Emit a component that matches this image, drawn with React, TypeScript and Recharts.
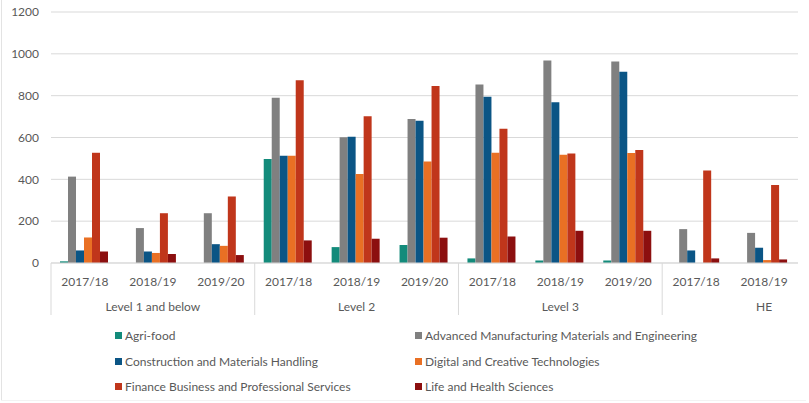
import { Bar, BarChart, CartesianGrid, Legend, XAxis, YAxis } from "recharts"

const years = ["2017/18", "2018/19", "2019/20", "2017/18", "2018/19", "2019/20", "2017/18", "2018/19", "2019/20", "2017/18", "2018/19"]
const groups = ["Level 1 and below", "Level 1 and below", "Level 1 and below", "Level 2", "Level 2", "Level 2", "Level 3", "Level 3", "Level 3", "HE", "HE"]

const agriFood = [8, 0, 0, 497, 76, 86, 22, 12, 12, 0, 0]
const advancedManufacturing = [413, 167, 238, 790, 601, 688, 853, 968, 963, 162, 144]
const construction = [60, 55, 90, 513, 604, 680, 795, 769, 914, 60, 73]
const digitalCreative = [122, 48, 82, 513, 426, 485, 527, 518, 526, 0, 14]
const financeBusiness = [527, 238, 318, 874, 701, 846, 642, 523, 540, 442, 373]
const lifeHealth = [55, 43, 38, 108, 116, 121, 127, 154, 154, 22, 17]

const yTicks = [0, 200, 400, 600, 800, 1000, 1200]

const series = [
  { key: "agri", name: "Agri-food", color: "#138b7b" },
  { key: "adv", name: "Advanced Manufacturing Materials and Engineering", color: "#808080" },
  { key: "con", name: "Construction and Materials Handling", color: "#0b5585" },
  { key: "dig", name: "Digital and Creative Technologies", color: "#e97024" },
  { key: "fin", name: "Finance Business and Professional Services", color: "#c0361b" },
  { key: "life", name: "Life and Health Sciences", color: "#8c0f0f" },
]

const data = years.map((year, i) => ({
  year,
  group: groups[i],
  agri: agriFood[i],
  adv: advancedManufacturing[i],
  con: construction[i],
  dig: digitalCreative[i],
  fin: financeBusiness[i],
  life: lifeHealth[i],
}))

const FONT = "Lato, 'Open Sans', sans-serif"
const TEXT = "#595959"
const LINE = "#d9d9d9"

const W = 809
const H = 403
const LEFT = 51
const RIGHT = 11
const BAND = (W - LEFT - RIGHT) / years.length

// group label sits under the middle category of each group (Excel style)
const labelAt = [1, 4, 7, 10]
const groupStart = [0, 3, 6, 9]

const XTick = (props: any) => {
  const { x, y, payload } = props
  const i = payload.index
  return (
    <g>
      <text x={x} y={y + 15} textAnchor="middle" fill={TEXT} fontSize={12} fontFamily={FONT}>
        {years[i]}
      </text>
      {labelAt.includes(i) && (
        <text x={x} y={y + 40} textAnchor="middle" fill={TEXT} fontSize={12} fontFamily={FONT}>
          {groups[i]}
        </text>
      )}
      {groupStart.includes(i) && (
        <line x1={x - BAND / 2} x2={x - BAND / 2} y1={y - 8} y2={y + 44} stroke={LINE} />
      )}
    </g>
  )
}

// legend in the same order as the series, two columns
const LegendBox = () => (
  <div style={{ position: "relative", width: W, height: 80, fontFamily: FONT, fontSize: 12, color: TEXT }}>
    {series.map((s, i) => (
      <div
        key={s.key}
        style={{
          position: "absolute",
          left: i % 2 === 0 ? 115 : 415,
          top: 5 + Math.floor(i / 2) * 25.5,
          display: "flex",
          alignItems: "center",
          whiteSpace: "nowrap",
        }}
      >
        <span style={{ width: 7, height: 7, background: s.color, marginRight: 3, display: "inline-block" }} />
        {s.name}
      </div>
    ))}
  </div>
)

export default function App() {
  return (
    <div style={{ position: "absolute", left: 0, top: 0, width: W, height: H, background: "#fff" }}>
      <div style={{ position: "absolute", left: 1, top: 0, width: 1, height: 401, background: "#e3e3e3" }} />
      <div style={{ position: "absolute", left: 1, top: 400, width: 805, height: 1, background: "#f3f3f3" }} />
      <BarChart
        width={W}
        height={H}
        data={data}
        margin={{ top: 12, right: RIGHT, bottom: 0, left: 0 }}
        barGap={0}
        barCategoryGap={9}
      >
        <CartesianGrid vertical={false} stroke={LINE} />
        <XAxis
          dataKey="year"
          height={60}
          tickLine={false}
          axisLine={{ stroke: LINE }}
          tick={<XTick />}
          interval={0}
        />
        <YAxis
          width={LEFT}
          domain={[0, 1200]}
          ticks={yTicks}
          axisLine={false}
          tickLine={false}
          tick={{ fill: TEXT, fontSize: 12, fontFamily: FONT }}
          tickMargin={6}
        />
        <Legend verticalAlign="bottom" height={80} content={<LegendBox />} />
        {series.map(s => (
          <Bar key={s.key} dataKey={s.key} name={s.name} fill={s.color} isAnimationActive={false} />
        ))}
      </BarChart>
    </div>
  )
}
